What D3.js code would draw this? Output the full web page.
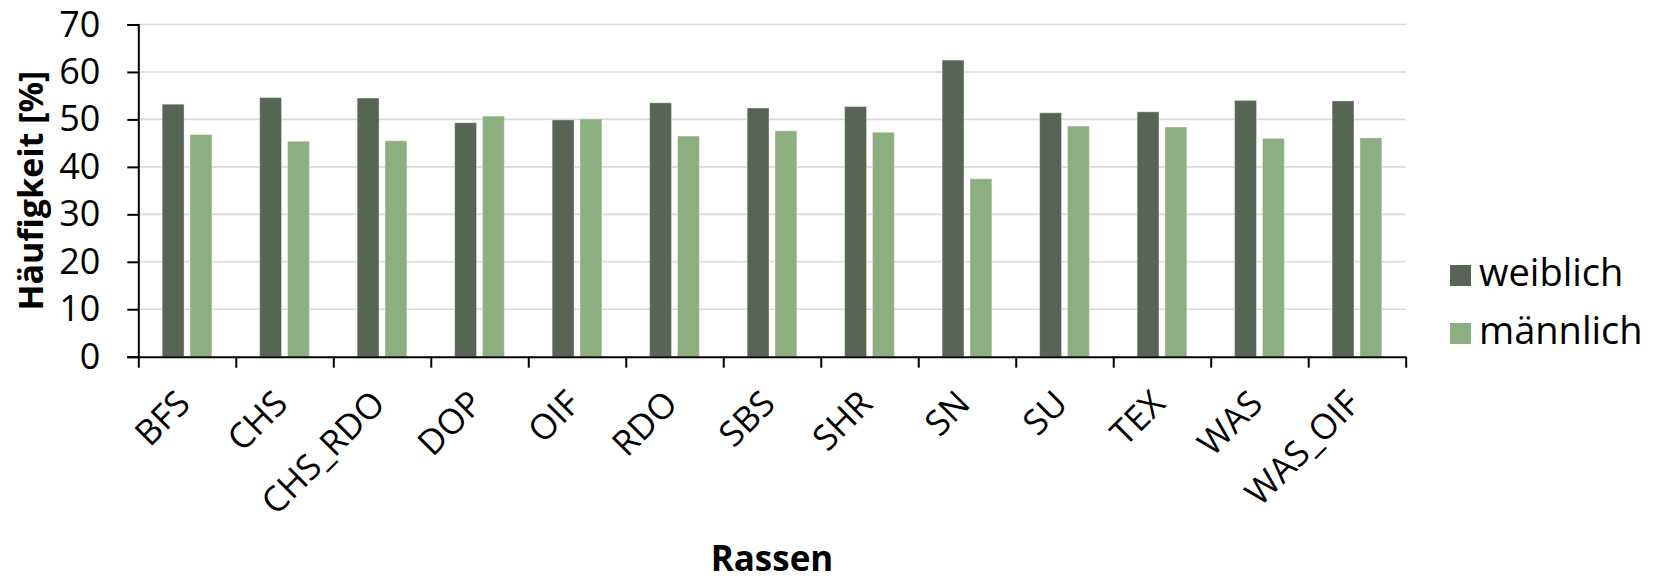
<!DOCTYPE html>
<html>
<head>
<meta charset="utf-8">
<script src="https://cdn.jsdelivr.net/npm/d3@7"></script>
<style>
  html, body { margin: 0; padding: 0; background: #fff; }
  svg { display: block; }
  text { font-family: "Open Sans", "Noto Sans", sans-serif; fill: #000; }
</style>
</head>
<body>
<svg id="chart" width="1657" height="580"></svg>
<script>
// Breeds and share of each sex (%)
const categories = ["BFS", "CHS", "CHS_RDO", "DOP", "OIF", "RDO", "SBS", "SHR", "SN", "SU", "TEX", "WAS", "WAS_OIF"];
const seriesNames = ["weiblich", "männlich"];
const weiblich = [53.2, 54.6, 54.5, 49.3, 49.9, 53.5, 52.4, 52.7, 62.5, 51.4, 51.6, 54.0, 53.9];
const maennlich = [46.8, 45.4, 45.5, 50.7, 50.1, 46.5, 47.6, 47.3, 37.5, 48.6, 48.4, 46.0, 46.1];
const yTicks = [0, 10, 20, 30, 40, 50, 60, 70];
const colors = ["#576555", "#8daf80"];

const svg = d3.select("#chart");

const plotLeft = 138.3, plotRight = 1405.7, plotTop = 24.5, plotBottom = 356.7;

const x = d3.scaleBand().domain(categories).range([plotLeft, plotRight]).padding(0);
const xs = d3.scaleBand().domain(seriesNames).range([0, x.bandwidth()])
  .paddingInner(0.215).paddingOuter(0.858);
const y = d3.scaleLinear().domain([0, 70]).range([plotBottom, plotTop]);

// horizontal gridlines
svg.append("g")
  .selectAll("line")
  .data(yTicks.filter(d => d > 0))
  .join("line")
  .attr("x1", plotLeft).attr("x2", plotRight)
  .attr("y1", d => y(d)).attr("y2", d => y(d))
  .attr("stroke", "#d9d9d9").attr("stroke-width", 1.6);

// bars
const rows = categories.map((c, i) => ({ cat: c, values: [weiblich[i], maennlich[i]] }));
svg.append("g")
  .selectAll("g")
  .data(rows)
  .join("g")
  .attr("transform", d => `translate(${x(d.cat)},0)`)
  .selectAll("rect")
  .data(d => d.values.map((v, j) => ({ s: seriesNames[j], v, j })))
  .join("rect")
  .attr("x", d => xs(d.s))
  .attr("width", xs.bandwidth())
  .attr("y", d => y(d.v))
  .attr("height", d => y(0) - y(d.v))
  .attr("fill", d => colors[d.j])
  .attr("stroke", "#ffffff").attr("stroke-opacity", 0.35).attr("stroke-width", 1);

// y axis
const yAxis = svg.append("g")
  .attr("transform", `translate(${plotLeft},0)`)
  .call(d3.axisLeft(y).tickValues(yTicks).tickSize(11).tickPadding(27).tickFormat(d3.format("d")));
yAxis.select(".domain").attr("stroke", "#000").attr("stroke-width", 2);
yAxis.selectAll(".tick line").attr("stroke", "#000").attr("stroke-width", 2);
yAxis.selectAll(".tick text")
  .style("font-family", '"Open Sans", sans-serif')
  .style("font-size", "36px")
  .attr("fill", "#000");

// x axis: ticks at the boundaries between breeds
const xEdge = d3.scaleLinear().domain([0, categories.length]).range([plotLeft, plotRight]);
const xAxis = svg.append("g")
  .attr("transform", `translate(0,${plotBottom})`)
  .call(d3.axisBottom(xEdge).tickValues(d3.range(categories.length + 1)).tickSize(11).tickSizeOuter(0).tickFormat(""));
xAxis.select(".domain").attr("stroke", "#000").attr("stroke-width", 2);
xAxis.selectAll(".tick line").attr("stroke", "#000").attr("stroke-width", 2);

// rotated category labels
svg.append("g")
  .selectAll("text")
  .data(categories)
  .join("text")
  .attr("transform", d => `translate(${x(d) + x.bandwidth() / 2 + 5},${plotBottom + 49}) rotate(-45)`)
  .attr("text-anchor", "end")
  .style("font-size", "35px")
  .text(d => d);

// axis titles
svg.append("text")
  .attr("transform", `translate(43,${(plotTop + plotBottom) / 2}) rotate(-90)`)
  .attr("text-anchor", "middle")
  .style("font-size", "34px").style("font-weight", "bold")
  .text("Häufigkeit [%]");

svg.append("text")
  .attr("x", (plotLeft + plotRight) / 2).attr("y", 571)
  .attr("text-anchor", "middle")
  .style("font-size", "35px").style("font-weight", "bold")
  .text("Rassen");

// legend
const legend = svg.append("g")
  .selectAll("g")
  .data(seriesNames)
  .join("g")
  .attr("transform", (d, i) => `translate(1450,${265 + i * 58})`);
legend.append("rect")
  .attr("width", 21).attr("height", 21)
  .attr("fill", (d, i) => colors[i]);
legend.append("text")
  .attr("x", 29).attr("y", 21)
  .style("font-size", "38px")
  .text(d => d);
</script>
</body>
</html>
